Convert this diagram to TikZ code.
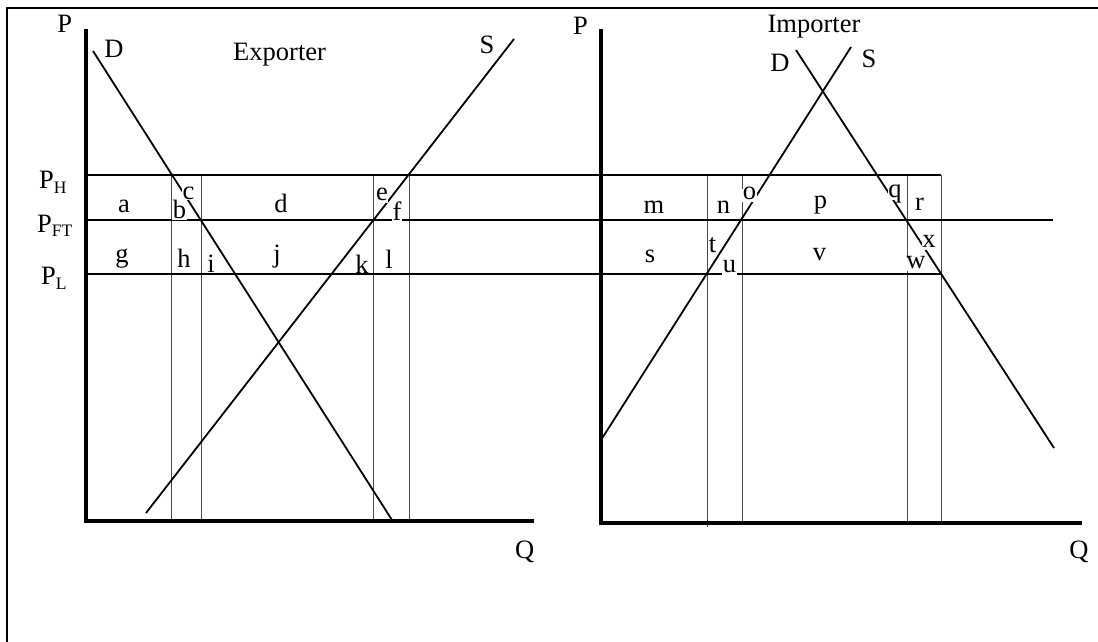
\documentclass[tikz,border=0pt]{standalone}
\usepackage{fontspec}
\setmainfont{Liberation Serif}
\begin{document}
\begin{tikzpicture}[x=1pt,y=-1pt,
  every node/.style={font=\fontsize{26.5}{30}\selectfont, inner sep=0pt},
  lbl/.style={anchor=base},
  cut/.style={anchor=base, fill=white, text height=0.9em, text depth=0.26em, inner sep=0.6pt},
  axis/.style={line width=3.5pt},
  frameline/.style={line width=2.4pt},
  price/.style={line width=1.8pt},
  curve/.style={line width=1.8pt},
  guide/.style={line width=1pt, black!70}]
\useasboundingbox (0,0) rectangle (1098,642);
% frame
\coordinate (fTL) at (7,8); \coordinate (fTR) at (1098,8); \coordinate (fBL) at (7,642);
\draw[frameline] (fBL) -- (fTL) -- (fTR);
% coordinates
\coordinate (eY) at (86,29); \coordinate (eO) at (86,521); \coordinate (eX) at (534,521);
\coordinate (iY) at (601,29); \coordinate (iO) at (601,523); \coordinate (iX) at (1082,523);
\coordinate (pH0) at (86,175); \coordinate (pH1) at (941,175);
\coordinate (pF0) at (86,220); \coordinate (pF1) at (1053,220);
\coordinate (pL0) at (86,274); \coordinate (pL1) at (941,274);
% guides
\foreach \gx/\gy in {171.5/521, 201/521, 373.6/521, 409/521, 707/527, 742/523, 907/523, 941/523}{
  \draw[guide] (\gx,175) -- (\gx,\gy);
}
% price lines
\draw[price] (pH0) -- (pH1);
\draw[price] (pF0) -- (pF1);
\draw[price] (pL0) -- (pL1);
% curves
\coordinate (eDa) at (93,51); \coordinate (eDb) at (392,520);
\coordinate (eSa) at (146,513); \coordinate (eSb) at (514,39);
\coordinate (iDa) at (796,50); \coordinate (iDb) at (1054,448);
\coordinate (iSa) at (601,440); \coordinate (iSb) at (851,47);
\draw[curve] (eDa) -- (eDb);
\draw[curve] (eSa) -- (eSb);
\draw[curve] (iDa) -- (iDb);
\draw[curve] (iSa) -- (iSb);
% axes
\draw[axis] (eY) -- (eO) -- (eX);
\draw[axis] (iY) -- (iO) -- (iX);
% axis labels
\node[lbl] (eP) at (64.7,33) {P};
\node[lbl] (iP) at (580.5,35) {P};
\node[lbl] (eQ) at (524.6,558) {Q};
\node[lbl] (iQ) at (1079,558) {Q};
\node[lbl] (eD) at (114,58) {D};
\node[lbl] (eS) at (487,54) {S};
\node[lbl] (eT) at (279.6,60) {Exporter};
\node[lbl] (iT) at (814,33) {Importer};
\node[lbl] (iD) at (780,72) {D};
\node[lbl] (iS) at (869,68) {S};
\node[anchor=base west] (lPH) at (39,188) {P\raisebox{-5pt}{\fontsize{17.5}{18}\selectfont H}};
\node[anchor=base west] (lPF) at (37,232) {P\raisebox{-4pt}{\fontsize{17.5}{18}\selectfont FT}};
\node[anchor=base west] (lPL) at (41,284) {P\raisebox{-5pt}{\fontsize{17.5}{18}\selectfont L}};
% exporter area letters
\node[lbl] (la) at (124,212) {a};
\node[cut, text depth=0.06em] (lc) at (188.5,199) {c};
\node[cut, text height=0.7em, text depth=0.14em] (lb) at (179.5,218) {b};
\node[lbl] (ld) at (281,212) {d};
\node[cut] (le) at (382,200) {e};
\node[cut] (lf) at (397,220) {f};
\node[lbl] (lg) at (122,262) {g};
\node[lbl] (lh) at (184,267) {h};
\node[lbl] (li) at (211,272) {i};
\node[lbl] (lj) at (277,262) {j};
\node[lbl] (lk) at (362,273) {k};
\node[lbl] (ll) at (389,268) {l};
% importer area letters
\node[cut] (lm) at (654,213) {m};
\node[cut] (ln) at (723.5,213) {n};
\node[cut] (lo) at (749.5,199) {o};
\node[lbl] (lp) at (820.5,208) {p};
\node[cut] (lq) at (895,197) {q};
\node[lbl] (lr) at (919.5,210) {r};
\node[lbl] (ls) at (650,262) {s};
\node[cut] (lt) at (712.5,252) {t};
\node[cut] (lu) at (729.6,272) {u};
\node[lbl] (lv) at (819.6,260) {v};
\node[cut] (lw) at (916,268) {w};
\node[cut] (lx) at (929,247) {x};
\end{tikzpicture}
\end{document}
